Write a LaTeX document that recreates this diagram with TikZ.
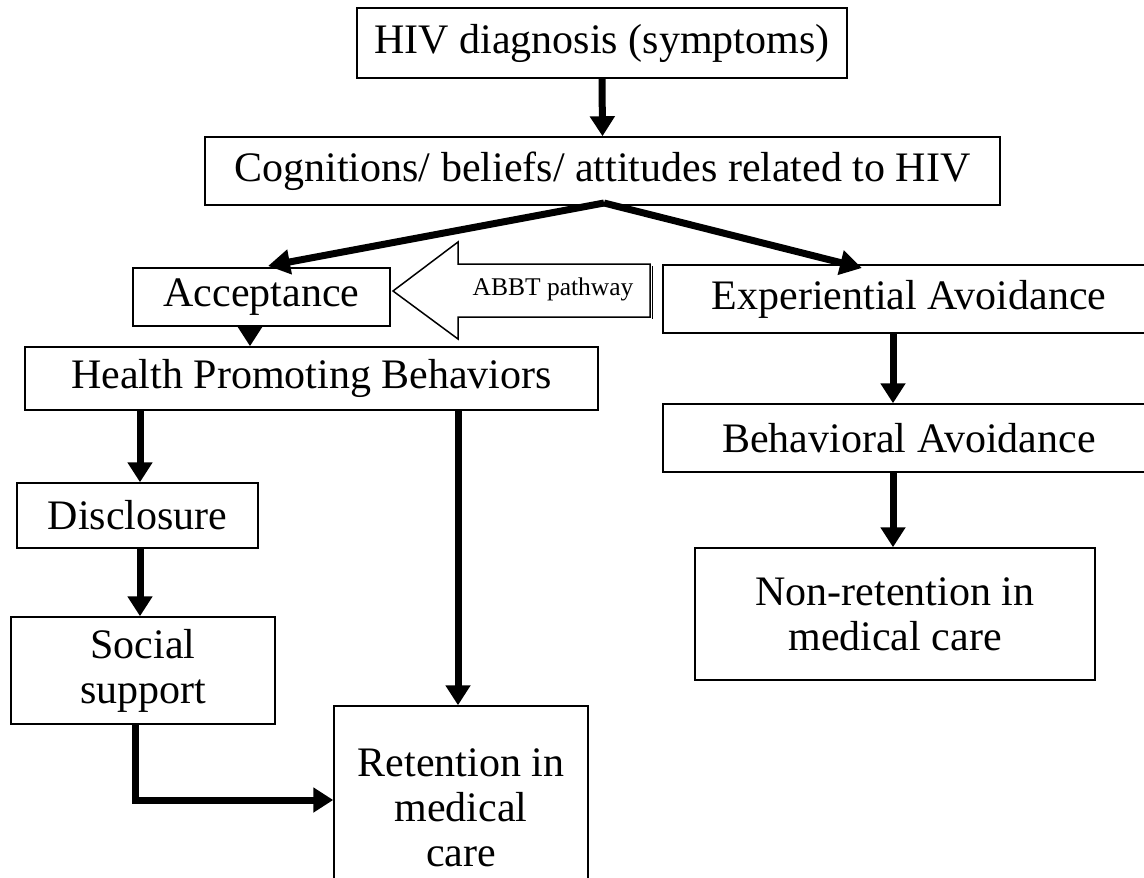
\documentclass[tikz,border=0pt]{standalone}
\usepackage{fontspec}
\setmainfont{Liberation Serif}
\usetikzlibrary{arrows.meta}
\tikzset{
  box/.style={draw, line width=1.5pt, inner sep=0pt, align=center,
    font=\fontsize{42}{45}\selectfont},
  arr/.style={line width=7pt, -{Triangle[length=20pt,width=24pt]}},
  diag/.style={line width=7pt, -{Triangle[length=22pt,width=24pt]}},
}
\begin{document}
\begin{tikzpicture}[x=1pt,y=-1pt]
\useasboundingbox (0,0) rectangle (1144,878);
\node[box, minimum width=490, minimum height=70] (hiv) at (602,43) {HIV diagnosis (symptoms)};
\node[box, minimum width=795, minimum height=68] (cog) at (602.5,171) {Cognitions/ beliefs/ attitudes related to HIV};
\node[box, minimum width=257, minimum height=58] (acc) at (261.5,297) {Acceptance};
\node[box, minimum width=492, minimum height=68] (exp) at (909,299) {Experiential Avoidance};
\node[box, minimum width=492, minimum height=68] (beh) at (909,438) {Behavioral Avoidance};
\node[box, minimum width=573, minimum height=63] (hpb) at (311.5,378.5) {Health Promoting Behaviors};
\node[box, minimum width=241, minimum height=65] (dis) at (137.5,515.5) {Disclosure};
\node[box, minimum width=264, minimum height=107] (soc) at (143,670.5) {Social\\support};
\node[box, minimum width=254, minimum height=204] (ret) at (461,808) {Retention in\\medical\\care};
\node[box, minimum width=400, minimum height=132] (non) at (895,614) {Non-retention in\\medical care};
% ABBT pathway arrow shape
\draw[line width=1.5pt, line join=miter] (393,291) -- (458,242) -- (458,264) -- (650,264) -- (650,317) -- (458,317) -- (458,339) -- cycle;
\draw[line width=1pt] (652.5,266) -- (652.5,319);
\node[font=\fontsize{25.5}{28}\selectfont] (abbt) at (553,289) {ABBT pathway};
% x positions
\coordinate (xa) at (250,0);
\coordinate (xh) at (458,0);
\coordinate (xd) at (140,0);
\coordinate (xe) at (893,0);
\coordinate (xs) at (135,0);
\coordinate (top) at (604,203);
\draw[arr] (hiv.south) -- (cog.north);
\draw[diag] (top) -- (268,266);
\draw[diag] (top) -- (862,268);
\draw[arr] (xa |- acc.south) -- (xa |- hpb.north);
\draw[arr] (xd |- hpb.south) -- (xd |- dis.north);
\draw[arr] (xd |- dis.south) -- (xd |- soc.north);
\draw[arr] (xh |- hpb.south) -- (xh |- ret.north);
\draw[arr, line join=miter] (xs |- soc.south) |- (ret.west |- 0,800);
\draw[arr] (xe |- exp.south) -- (xe |- beh.north);
\draw[arr] (xe |- beh.south) -- (xe |- non.north);
\end{tikzpicture}
\end{document}
